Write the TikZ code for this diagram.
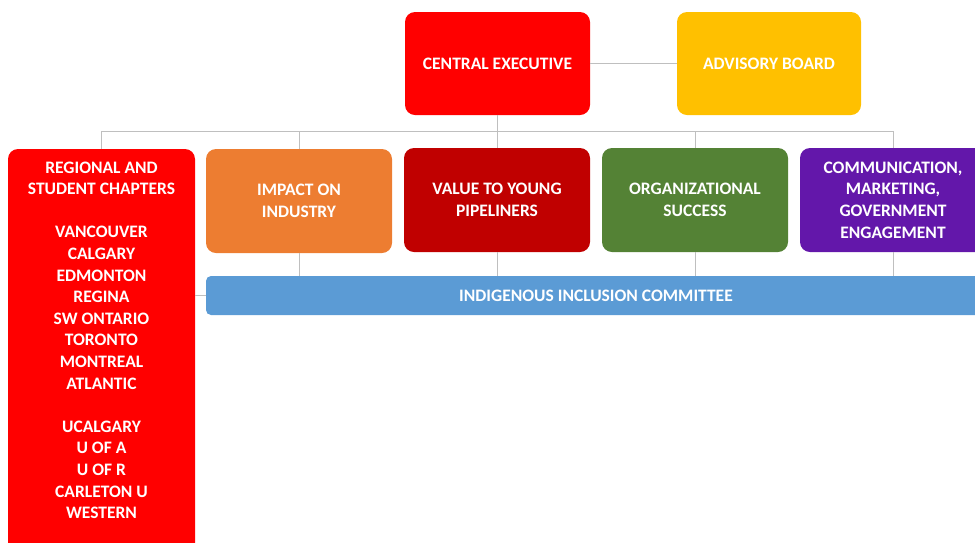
\documentclass[tikz,border=0pt]{standalone}
\usepackage{fontspec}
\setmainfont{Carlito}
\definecolor{cRed}{HTML}{FF0000}
\definecolor{cGold}{HTML}{FFC000}
\definecolor{cOrange}{HTML}{ED7D31}
\definecolor{cDark}{HTML}{C00000}
\definecolor{cGreen}{HTML}{548235}
\definecolor{cPurple}{HTML}{6317AA}
\definecolor{cBlue}{HTML}{5B9BD5}
\definecolor{cLine}{HTML}{BFBFBF}
\begin{document}
\begin{tikzpicture}[x=1pt,y=-1pt,
  box/.style={rounded corners=10pt, text=white, align=center, inner sep=0pt,
    font=\bfseries\fontsize{17.5}{21.6}\selectfont, minimum width=186pt, minimum height=104pt},
  lbl/.style={text=white, align=center, inner sep=0pt, font=\bfseries\fontsize{17.5}{21.6}\selectfont},
  conn/.style={draw=cLine, line width=0.9pt}]
\useasboundingbox (0,0) rectangle (975,542);
\coordinate (bus) at (0,131);
\node[box, fill=cRed, minimum width=185pt, minimum height=103pt] (ce) at (497.5,63.5) {CENTRAL EXECUTIVE};
\node[box, fill=cGold, minimum width=184pt, minimum height=103pt] (ab) at (769,63.5) {ADVISORY BOARD};
\node[box, fill=cRed, minimum width=187pt, minimum height=421pt] (reg) at (101.5,359.5) {};
\node[lbl, anchor=north] (regt) at (101.5,161.5) {REGIONAL AND\\STUDENT CHAPTERS\\[21.6pt]VANCOUVER\\CALGARY\\EDMONTON\\REGINA\\SW ONTARIO\\TORONTO\\MONTREAL\\ATLANTIC\\[21.6pt]UCALGARY\\U OF A\\U OF R\\CARLETON U\\WESTERN};
\node[box, fill=cOrange] (imp) at (299,201) {IMPACT ON\\INDUSTRY};
\node[box, fill=cDark] (val) at (497,200) {VALUE TO YOUNG\\PIPELINERS};
\node[box, fill=cGreen] (org) at (695,200) {ORGANIZATIONAL\\SUCCESS};
\node[box, fill=cPurple] (com) at (893,200) {COMMUNICATION,\\MARKETING,\\GOVERNMENT\\ENGAGEMENT};
\node[box, fill=cBlue, rounded corners=5pt, minimum width=780pt, minimum height=39pt] (ind) at (596,295.5) {INDIGENOUS INCLUSION COMMITTEE};
\draw[conn] (ce.east) -- (ab.west);
\draw[conn] (ce.south) -- (ce.south |- val.north);
\draw[conn] (reg.north) |- (com.north |- bus) -- (com.north);
\draw[conn] (imp.north) -- (imp.north |- bus);
\draw[conn] (org.north) -- (org.north |- bus);
\draw[conn] (imp.south) -- (imp.south |- ind.north);
\draw[conn] (val.south) -- (val.south |- ind.north);
\draw[conn] (org.south) -- (org.south |- ind.north);
\draw[conn] (com.south) -- (com.south |- ind.north);
\draw[conn] (reg.east |- ind.west) -- (ind.west);
\end{tikzpicture}
\end{document}
